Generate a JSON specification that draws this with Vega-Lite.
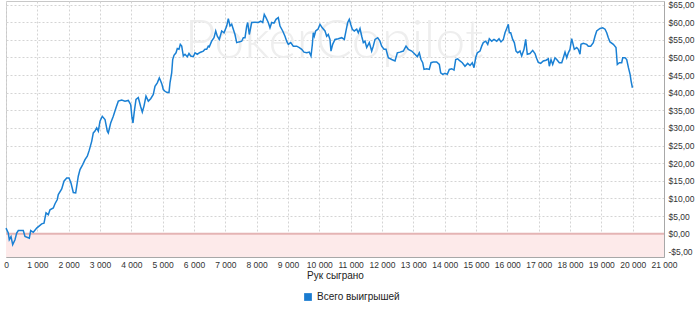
{
  "$schema": "https://vega.github.io/schema/vega-lite/v6.json",
  "width": 658,
  "height": 256,
  "autosize": {"type": "none"},
  "padding": {"left": 6, "top": 1, "right": 36, "bottom": 55},
  "background": "white",
  "config": {
    "view": {"stroke": "#c8c8c8", "strokeWidth": 1},
    "font": "Liberation Sans",
    "axis": {
      "labelFont": "Liberation Sans",
      "titleFont": "Liberation Sans",
      "labelColor": "#333333",
      "titleColor": "#222222",
      "grid": true,
      "gridColor": "#d4d4d4",
      "gridDash": [2, 2],
      "gridWidth": 1,
      "domainColor": "#a8a8a8",
      "ticks": false
    }
  },
  "datasets": {
    "winnings": [
      {"h":0,"w":1.6},{"h":73,"w":0.2},{"h":105,"w":-1.7},{"h":160,"w":-0.8},{"h":214,"w":-3.1},{"h":287,"w":-1.7},{"h":341,"w":0.2},{"h":393,"w":0.9},{"h":552,"w":0.9},{"h":606,"w":-0.8},{"h":744,"w":-1.3},{"h":788,"w":0.9},{"h":871,"w":0.4},{"h":980,"w":1.6},{"h":1139,"w":2.8},{"h":1213,"w":3.0},{"h":1277,"w":5.9},{"h":1350,"w":5.4},{"h":1404,"w":6.8},{"h":1510,"w":7.3},{"h":1564,"w":8.5},{"h":1637,"w":9.7},{"h":1669,"w":11.1},{"h":1778,"w":12.7},{"h":1851,"w":14.9},{"h":1937,"w":15.8},{"h":2011,"w":15.8},{"h":2074,"w":14.4},{"h":2148,"w":11.7},{"h":2224,"w":11.6},{"h":2256,"w":13.4},{"h":2307,"w":16.3},{"h":2362,"w":18.2},{"h":2448,"w":19.6},{"h":2521,"w":21.0},{"h":2595,"w":22.0},{"h":2658,"w":23.7},{"h":2735,"w":26.2},{"h":2786,"w":28.6},{"h":2840,"w":29.1},{"h":2895,"w":30.0},{"h":2946,"w":29.1},{"h":3000,"w":31.9},{"h":3073,"w":33.3},{"h":3160,"w":32.4},{"h":3233,"w":29.1},{"h":3265,"w":28.6},{"h":3341,"w":31.4},{"h":3424,"w":33.3},{"h":3511,"w":35.7},{"h":3584,"w":37.6},{"h":3692,"w":37.9},{"h":3798,"w":37.6},{"h":3903,"w":37.8},{"h":3980,"w":36.6},{"h":4021,"w":32.9},{"h":4053,"w":31.4},{"h":4095,"w":34.7},{"h":4149,"w":38.1},{"h":4222,"w":38.6},{"h":4299,"w":36.0},{"h":4350,"w":34.5},{"h":4404,"w":36.2},{"h":4468,"w":39.0},{"h":4542,"w":37.6},{"h":4618,"w":38.3},{"h":4701,"w":39.5},{"h":4755,"w":41.8},{"h":4829,"w":42.8},{"h":4893,"w":44.2},{"h":4937,"w":43.3},{"h":4979,"w":42.3},{"h":5020,"w":40.9},{"h":5074,"w":40.4},{"h":5129,"w":40.1},{"h":5202,"w":40.0},{"h":5234,"w":42.8},{"h":5288,"w":45.6},{"h":5320,"w":49.4},{"h":5362,"w":50.6},{"h":5426,"w":51.3},{"h":5467,"w":52.5},{"h":5521,"w":52.3},{"h":5563,"w":53.7},{"h":5608,"w":53.2},{"h":5659,"w":50.4},{"h":5713,"w":50.9},{"h":5786,"w":50.2},{"h":5840,"w":51.1},{"h":5895,"w":50.4},{"h":5978,"w":50.2},{"h":6032,"w":51.3},{"h":6105,"w":50.9},{"h":6192,"w":51.4},{"h":6297,"w":51.8},{"h":6351,"w":52.3},{"h":6405,"w":52.3},{"h":6456,"w":53.2},{"h":6488,"w":53.0},{"h":6563,"w":54.6},{"h":6638,"w":55.6},{"h":6693,"w":57.5},{"h":6744,"w":56.0},{"h":6807,"w":55.1},{"h":6884,"w":57.5},{"h":6957,"w":57.0},{"h":7044,"w":58.9},{"h":7095,"w":61.0},{"h":7149,"w":58.9},{"h":7203,"w":59.4},{"h":7254,"w":58.0},{"h":7308,"w":56.5},{"h":7363,"w":54.2},{"h":7436,"w":54.4},{"h":7522,"w":54.6},{"h":7574,"w":55.6},{"h":7628,"w":55.6},{"h":7682,"w":58.9},{"h":7714,"w":59.9},{"h":7765,"w":56.5},{"h":7841,"w":59.9},{"h":7947,"w":60.0},{"h":8052,"w":59.9},{"h":8129,"w":60.3},{"h":8193,"w":59.9},{"h":8243,"w":62.2},{"h":8298,"w":61.3},{"h":8371,"w":59.9},{"h":8425,"w":58.4},{"h":8480,"w":59.9},{"h":8553,"w":59.7},{"h":8617,"w":60.8},{"h":8690,"w":61.3},{"h":8745,"w":58.9},{"h":8831,"w":57.5},{"h":8904,"w":56.0},{"h":8958,"w":54.6},{"h":9010,"w":53.7},{"h":9086,"w":54.2},{"h":9169,"w":53.2},{"h":9278,"w":53.2},{"h":9361,"w":52.8},{"h":9437,"w":52.3},{"h":9511,"w":51.5},{"h":9597,"w":51.3},{"h":9680,"w":51.5},{"h":9734,"w":50.4},{"h":9776,"w":53.6},{"h":9807,"w":57.0},{"h":9839,"w":56.0},{"h":9883,"w":57.5},{"h":9957,"w":58.0},{"h":10021,"w":59.4},{"h":10094,"w":58.4},{"h":10181,"w":57.5},{"h":10235,"w":56.0},{"h":10286,"w":56.5},{"h":10340,"w":55.1},{"h":10372,"w":51.8},{"h":10426,"w":53.7},{"h":10500,"w":55.1},{"h":10605,"w":55.3},{"h":10714,"w":55.6},{"h":10797,"w":55.1},{"h":10851,"w":57.5},{"h":10905,"w":59.9},{"h":10956,"w":60.8},{"h":11001,"w":59.4},{"h":11052,"w":58.0},{"h":11116,"w":57.5},{"h":11193,"w":58.0},{"h":11244,"w":57.0},{"h":11298,"w":58.2},{"h":11353,"w":56.0},{"h":11404,"w":54.2},{"h":11457,"w":54.6},{"h":11512,"w":52.8},{"h":11595,"w":54.2},{"h":11671,"w":51.8},{"h":11722,"w":53.2},{"h":11777,"w":55.1},{"h":11863,"w":55.6},{"h":11936,"w":54.6},{"h":11990,"w":53.2},{"h":12064,"w":52.3},{"h":12128,"w":52.3},{"h":12201,"w":49.9},{"h":12310,"w":49.4},{"h":12415,"w":49.0},{"h":12489,"w":51.3},{"h":12575,"w":51.5},{"h":12680,"w":51.8},{"h":12766,"w":53.2},{"h":12840,"w":52.3},{"h":12948,"w":51.8},{"h":13053,"w":50.9},{"h":13127,"w":50.2},{"h":13191,"w":51.3},{"h":13245,"w":49.4},{"h":13299,"w":48.5},{"h":13341,"w":46.6},{"h":13426,"w":46.8},{"h":13509,"w":46.6},{"h":13564,"w":48.5},{"h":13638,"w":48.7},{"h":13745,"w":48.7},{"h":13829,"w":48.0},{"h":13873,"w":45.6},{"h":13937,"w":45.2},{"h":14011,"w":45.5},{"h":14084,"w":45.2},{"h":14148,"w":46.6},{"h":14225,"w":46.8},{"h":14298,"w":46.4},{"h":14352,"w":49.4},{"h":14416,"w":49.6},{"h":14489,"w":49.0},{"h":14563,"w":48.5},{"h":14649,"w":47.5},{"h":14735,"w":48.3},{"h":14809,"w":47.7},{"h":14882,"w":48.5},{"h":14936,"w":47.1},{"h":14990,"w":49.9},{"h":15041,"w":51.3},{"h":15128,"w":51.8},{"h":15182,"w":53.2},{"h":15233,"w":54.2},{"h":15310,"w":54.6},{"h":15374,"w":53.7},{"h":15425,"w":55.3},{"h":15502,"w":54.6},{"h":15575,"w":55.1},{"h":15661,"w":54.6},{"h":15734,"w":55.3},{"h":15798,"w":54.4},{"h":15872,"w":55.1},{"h":15926,"w":57.0},{"h":15980,"w":58.2},{"h":16031,"w":59.4},{"h":16063,"w":57.0},{"h":16108,"w":57.0},{"h":16171,"w":55.1},{"h":16223,"w":54.2},{"h":16277,"w":51.8},{"h":16331,"w":51.3},{"h":16404,"w":51.8},{"h":16458,"w":50.4},{"h":16532,"w":52.3},{"h":16586,"w":55.1},{"h":16637,"w":50.9},{"h":16723,"w":51.1},{"h":16809,"w":52.0},{"h":16883,"w":51.1},{"h":16937,"w":49.7},{"h":16988,"w":48.6},{"h":17065,"w":48.3},{"h":17148,"w":49.0},{"h":17234,"w":49.2},{"h":17308,"w":49.6},{"h":17340,"w":47.5},{"h":17394,"w":49.4},{"h":17448,"w":48.0},{"h":17521,"w":49.9},{"h":17576,"w":49.4},{"h":17659,"w":48.5},{"h":17736,"w":48.5},{"h":17787,"w":49.9},{"h":17841,"w":51.5},{"h":17895,"w":49.9},{"h":17946,"w":51.3},{"h":18000,"w":52.3},{"h":18054,"w":55.3},{"h":18086,"w":54.2},{"h":18137,"w":52.3},{"h":18214,"w":52.8},{"h":18265,"w":52.3},{"h":18319,"w":50.9},{"h":18351,"w":53.7},{"h":18424,"w":54.0},{"h":18533,"w":53.7},{"h":18584,"w":53.2},{"h":18661,"w":53.2},{"h":18744,"w":54.2},{"h":18798,"w":56.0},{"h":18852,"w":57.5},{"h":18958,"w":58.2},{"h":19044,"w":58.4},{"h":19118,"w":58.0},{"h":19172,"w":57.0},{"h":19223,"w":55.6},{"h":19277,"w":54.4},{"h":19383,"w":53.7},{"h":19468,"w":52.8},{"h":19510,"w":48.0},{"h":19574,"w":48.5},{"h":19650,"w":48.5},{"h":19682,"w":49.9},{"h":19756,"w":49.9},{"h":19810,"w":49.4},{"h":19865,"w":47.1},{"h":19918,"w":45.2},{"h":19950,"w":43.3},{"h":19992,"w":41.4}
    ]
  },
  "encoding": {
    "x": {
      "type": "quantitative",
      "scale": {"domain": [0, 21000], "nice": false, "zero": false},
      "axis": {
        "title": "Рук сыграно",
        "grid": true,
        "values": [0,1000,2000,3000,4000,5000,6000,7000,8000,9000,10000,11000,12000,13000,14000,15000,16000,17000,18000,19000,20000,21000],
        "labelExpr": "replace(format(datum.value, ','), ',', ' ')",
        "labelFontSize": 8.5,
        "labelPadding": 3,
        "titleFontSize": 10,
        "titleFontWeight": "normal",
        "titlePadding": 2,
        "labelFlush": false,
        "labelOverlap": false
      }
    },
    "y": {
      "type": "quantitative",
      "scale": {"domain": [-6.6, 66], "nice": false, "zero": false},
      "axis": {
        "orient": "right",
        "title": null,
        "grid": true,
        "values": [-5,0,5,10,15,20,25,30,35,40,45,50,55,60,65],
        "labelExpr": "(datum.value < 0 ? '-' : '') + '$' + replace(format(abs(datum.value), '.2f'), '.', ',')",
        "labelFontSize": 8.5,
        "labelPadding": 4,
        "labelOverlap": false,
        "labelFlush": false
      }
    }
  },
  "layer": [
    {
      "data": {"values": [{}]},
      "mark": {"type": "text", "fontSize": 54, "font": "Lato", "fontWeight": 300, "color": "#eeeeee", "baseline": "middle", "align": "center"},
      "encoding": {
        "x": {"datum": 10470},
        "y": {"datum": 54.5},
        "text": {"value": "PokerCopilot"}
      }
    },
    {
      "data": {"values": [{}]},
      "mark": {"type": "rect", "color": "#fdeaea"},
      "encoding": {
        "x": {"datum": 0},
        "x2": {"datum": 21000},
        "y": {"datum": 0},
        "y2": {"datum": -6.6}
      }
    },
    {
      "data": {"values": [{}]},
      "mark": {"type": "rule", "color": "#e4b4b4", "strokeWidth": 2},
      "encoding": {
        "y": {"datum": 0}
      }
    },
    {
      "data": {"name": "winnings"},
      "mark": {"type": "line", "strokeWidth": 1.5, "interpolate": "linear"},
      "encoding": {
        "x": {"field": "h", "type": "quantitative"},
        "y": {"field": "w", "type": "quantitative"},
        "color": {
          "datum": "Всего выигрышей",
          "scale": {"domain": ["Всего выигрышей"], "range": ["#1a80d4"]},
          "legend": {
            "title": null,
            "orient": "none",
            "legendX": 297,
            "legendY": 291,
            "symbolType": "square",
            "symbolSize": 60,
            "symbolFillColor": "#1a7bd0",
            "symbolStrokeWidth": 0,
            "labelFontSize": 10,
            "labelColor": "#222222",
            "labelOffset": 4
          }
        }
      }
    }
  ]
}
